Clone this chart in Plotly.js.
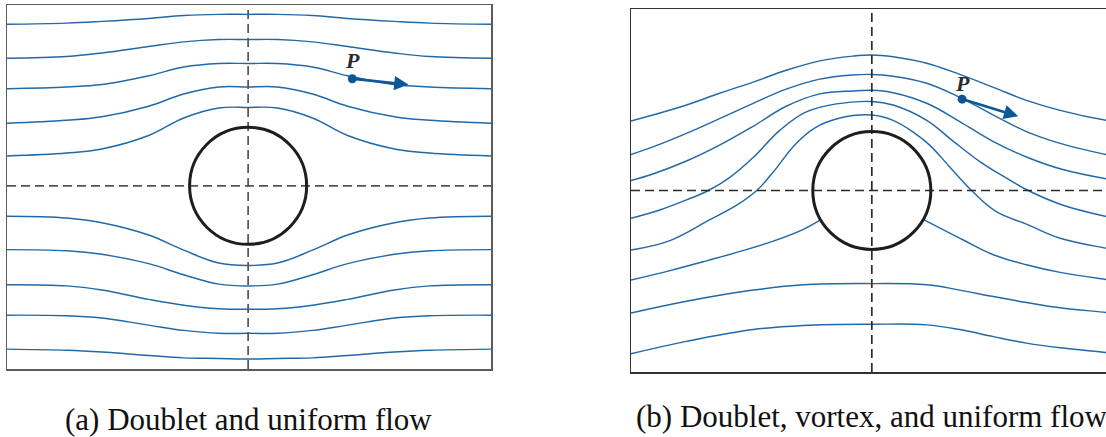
<!DOCTYPE html>
<html>
<head>
<meta charset="utf-8">
<script src="https://cdn.plot.ly/plotly-3.0.1.min.js"></script>
<style>
  html, body { margin: 0; padding: 0; background: #ffffff; overflow: hidden; }
  #chart { width: 1120px; height: 437px; }
</style>
</head>
<body>
<div id="chart"></div>
<script>
// ---------- Panel (a): doublet + uniform flow (units of cylinder radius) ----------
const aX = [-4.12,-3.1,-2.5,-1.7,-1.1,-0.5,0,0.5,1.1,1.7,2.5,3.1,4.15];
const aLine1  = [2.76,2.78,2.81,2.86,2.91,2.93,2.93,2.93,2.91,2.86,2.81,2.78,2.76];
const aLine2  = [2.18,2.21,2.27,2.38,2.46,2.50,2.50,2.50,2.46,2.38,2.27,2.21,2.18];
const aLine3  = [1.66,1.69,1.73,1.88,2.03,2.09,2.09,2.09,2.03,1.88,1.73,1.69,1.66];
const aLine4  = [1.07,1.12,1.18,1.36,1.57,1.69,1.69,1.69,1.57,1.36,1.18,1.12,1.07];
const aLine5  = [0.51,0.56,0.63,0.86,1.16,1.33,1.34,1.33,1.16,0.86,0.63,0.56,0.51];
const aLine6  = [-0.52,-0.55,-0.63,-0.84,-1.10,-1.32,-1.36,-1.32,-1.10,-0.84,-0.63,-0.55,-0.52];
const aLine7  = [-1.09,-1.11,-1.17,-1.33,-1.52,-1.68,-1.71,-1.68,-1.52,-1.33,-1.17,-1.11,-1.09];
const aLine8  = [-1.69,-1.71,-1.78,-1.94,-2.04,-2.10,-2.11,-2.10,-2.04,-1.94,-1.78,-1.71,-1.69];
const aLine9  = [-2.21,-2.22,-2.26,-2.38,-2.47,-2.52,-2.52,-2.52,-2.47,-2.38,-2.26,-2.22,-2.21];
const aLine10 = [-2.79,-2.81,-2.84,-2.90,-2.94,-2.95,-2.96,-2.95,-2.94,-2.90,-2.84,-2.81,-2.79];
const aPoint = [1.78, 1.83];      // point P
const aArrowTip = [2.74, 1.73];   // velocity arrow tip

// ---------- Panel (b): doublet + vortex + uniform flow ----------
const bX1 = [-4.08,-3.71,-3.14,-2.58,-2.01,-1.45,-0.88,-0.32,0,0.36,0.93,1.49,2.06,2.62,3.19,3.97,4.12];
const bY1 = [1.18,1.28,1.45,1.65,1.84,2.04,2.20,2.28,2.30,2.27,2.16,1.97,1.75,1.53,1.36,1.19,1.17];
const bX2 = [-4.08,-3.71,-3.14,-2.58,-2.01,-1.45,-0.88,-0.32,0,0.36,0.93,1.49,2.06,2.62,3.19,3.97,4.12];
const bY2 = [0.61,0.74,0.97,1.22,1.48,1.72,1.89,1.96,1.97,1.94,1.82,1.58,1.28,1.00,0.80,0.61,0.58];
const bX3 = [-4.08,-3.71,-3.14,-2.58,-2.01,-1.45,-0.88,-0.32,0,0.36,0.93,1.49,2.06,2.64,3.22,3.97,4.12];
const bY3 = [0.17,0.28,0.50,0.77,1.09,1.43,1.64,1.69,1.70,1.66,1.48,1.17,0.83,0.56,0.36,0.20,0.18];
const bX4 = [-4.08,-3.59,-3.14,-2.77,-2.41,-2.01,-1.56,-1.12,-0.60,0,0.36,0.93,1.35,1.83,2.28,2.65,3.24,3.97,4.12];
const bY4 = [-0.47,-0.33,-0.16,0,0.22,0.56,1.02,1.33,1.47,1.51,1.45,1.19,0.86,0.49,0.21,0,-0.25,-0.44,-0.47];
const bX5 = [-4.08,-3.42,-2.75,-2.29,-1.95,-1.64,-1.31,-0.97,-0.54,0,0.36,0.73,0.98,1.32,1.69,2.11,2.62,3.19,3.97,4.12];
const bY5 = [-1.01,-0.85,-0.50,-0.25,0,0.35,0.77,1.06,1.23,1.28,1.19,0.97,0.77,0.40,0,-0.36,-0.57,-0.81,-0.98,-1.01];
const bX6L = [-4.08,-3.42,-2.86,-2.29,-1.67,-1.16,-0.87];
const bY6L = [-1.52,-1.36,-1.21,-1.05,-0.86,-0.66,-0.50];
const bX6R = [0.87,1.55,2.06,2.62,3.19,3.97,4.12];
const bY6R = [-0.49,-0.84,-1.09,-1.26,-1.39,-1.51,-1.53];
const bX7 = [-4.08,-3.14,-2.01,-1.16,0,0.93,1.49,2.06,2.62,3.19,3.97,4.12];
const bY7 = [-2.08,-1.88,-1.69,-1.60,-1.58,-1.60,-1.69,-1.80,-1.90,-1.99,-2.07,-2.09];
const bX8 = [-4.08,-3.14,-2.01,-1.16,0,0.93,1.49,2.06,2.62,3.19,3.97,4.12];
const bY8 = [-2.77,-2.56,-2.36,-2.29,-2.27,-2.28,-2.36,-2.48,-2.59,-2.67,-2.75,-2.77];
const bPoint = [1.53, 1.55];
const bArrowTip = [2.48, 1.26];

const captions = ["(a) Doublet and uniform flow", "(b) Doublet, vortex, and uniform flow"];
const pointLabel = "P";

// ---------- styling ----------
const streamColor = "#2269a7";
const arrowColor = "#0b5797";
const W = 1120, H = 437;

const traces = [];
function addLine(x, y, xa, ya) {
  traces.push({
    type: "scatter", mode: "lines", x: x, y: y, xaxis: xa, yaxis: ya,
    line: { color: streamColor, width: 1.45, shape: "spline", smoothing: 1.1 },
    hoverinfo: "skip", showlegend: false
  });
}
[aLine1, aLine2, aLine3, aLine4, aLine5, aLine6, aLine7, aLine8, aLine9, aLine10]
  .forEach(l => addLine(aX, l, "x", "y"));
[[bX1,bY1],[bX2,bY2],[bX3,bY3],[bX4,bY4],[bX5,bY5],[bX6L,bY6L],[bX6R,bY6R],[bX7,bY7],[bX8,bY8]]
  .forEach(p => addLine(p[0], p[1], "x2", "y2"));

// points P
traces.push({ type: "scatter", mode: "markers", x: [aPoint[0]], y: [aPoint[1]], xaxis: "x", yaxis: "y",
  marker: { color: arrowColor, size: 9 }, hoverinfo: "skip", showlegend: false });
traces.push({ type: "scatter", mode: "markers", x: [bPoint[0]], y: [bPoint[1]], xaxis: "x2", yaxis: "y2",
  marker: { color: arrowColor, size: 9 }, hoverinfo: "skip", showlegend: false });

function dom(a, b) { return [a / W, b / W]; }
function ydom(top, bottom) { return [1 - bottom / H, 1 - top / H]; }

const axBase = { showgrid: false, zeroline: false, showticklabels: false, ticks: "",
  showline: true, mirror: true, fixedrange: true };

const dashStyle = "9px,5px";
function dashed(xref, yref, color) {
  return [
    { type: "line", xref: xref + " domain", yref: yref, x0: 0, x1: 1, y0: 0, y1: 0,
      line: { color: color, width: 1.7, dash: dashStyle }, layer: "above" },
    { type: "line", xref: xref, yref: yref + " domain", x0: 0, x1: 0, y0: 0, y1: 1,
      line: { color: color, width: 1.7, dash: dashStyle }, layer: "above" }
  ];
}
const shapes = [].concat(
  dashed("x", "y", "#555555"),
  dashed("x2", "y2", "#2a2a2a"),
  [
    { type: "circle", xref: "x", yref: "y", x0: -1, x1: 1, y0: -1, y1: 1,
      line: { color: "#1e1e1e", width: 3 }, layer: "above" },
    { type: "circle", xref: "x2", yref: "y2", x0: -1, x1: 1, y0: -1, y1: 1,
      line: { color: "#1e1e1e", width: 3 }, layer: "above" }
  ]
);

const serif = "Liberation Serif, DejaVu Serif, serif";
const annotations = [
  { xref: "x", yref: "y", x: aArrowTip[0], y: aArrowTip[1], axref: "x", ayref: "y",
    ax: aPoint[0], ay: aPoint[1], text: "", showarrow: true, arrowhead: 2, arrowsize: 1.1,
    arrowwidth: 2.6, arrowcolor: arrowColor, standoff: 0, startstandoff: 0 },
  { xref: "x2", yref: "y2", x: bArrowTip[0], y: bArrowTip[1], axref: "x2", ayref: "y2",
    ax: bPoint[0], ay: bPoint[1], text: "", showarrow: true, arrowhead: 2, arrowsize: 1.1,
    arrowwidth: 2.6, arrowcolor: arrowColor, standoff: 0, startstandoff: 0 },
  { xref: "x", yref: "y", x: aPoint[0], y: aPoint[1], yshift: 18, text: "<b><i>" + pointLabel + "</i></b>",
    showarrow: false, font: { family: serif, size: 22, color: "#2b2b2b" } },
  { xref: "x2", yref: "y2", x: bPoint[0], y: bPoint[1], yshift: 16, text: "<b><i>" + pointLabel + "</i></b>",
    showarrow: false, font: { family: serif, size: 22, color: "#2b2b2b" } },
  { xref: "x", yref: "paper", x: 0, y: 1 - 419 / H, yanchor: "middle", text: captions[0],
    showarrow: false, font: { family: serif, size: 31, color: "#111111" } },
  { xref: "x2", yref: "paper", x: 0, y: 1 - 416 / H, yanchor: "middle", text: captions[1],
    showarrow: false, font: { family: serif, size: 31, color: "#111111" } }
];

const layout = {
  width: W, height: H,
  margin: { l: 0, r: 0, t: 0, b: 0, pad: 0 },
  paper_bgcolor: "#ffffff", plot_bgcolor: "#ffffff",
  showlegend: false,
  xaxis:  Object.assign({}, axBase, { domain: dom(7, 491), range: [-4.12, 4.15], anchor: "y",
    linecolor: "#5c5c5c", linewidth: 1.5 }),
  yaxis:  Object.assign({}, axBase, { domain: ydom(5, 369), range: [-3.13, 3.09], anchor: "x",
    linecolor: "#5c5c5c", linewidth: 1.5 }),
  xaxis2: Object.assign({}, axBase, { domain: dom(631, 1115), range: [-4.08, 4.12], anchor: "y2",
    linecolor: "#333333", linewidth: 1.5 }),
  yaxis2: Object.assign({}, axBase, { domain: ydom(9, 372), range: [-3.08, 3.08], anchor: "x2",
    linecolor: "#333333", linewidth: 1.5 }),
  shapes: shapes,
  annotations: annotations
};

Plotly.newPlot("chart", traces, layout, { staticPlot: true, displayModeBar: false, responsive: false });
</script>
</body>
</html>
